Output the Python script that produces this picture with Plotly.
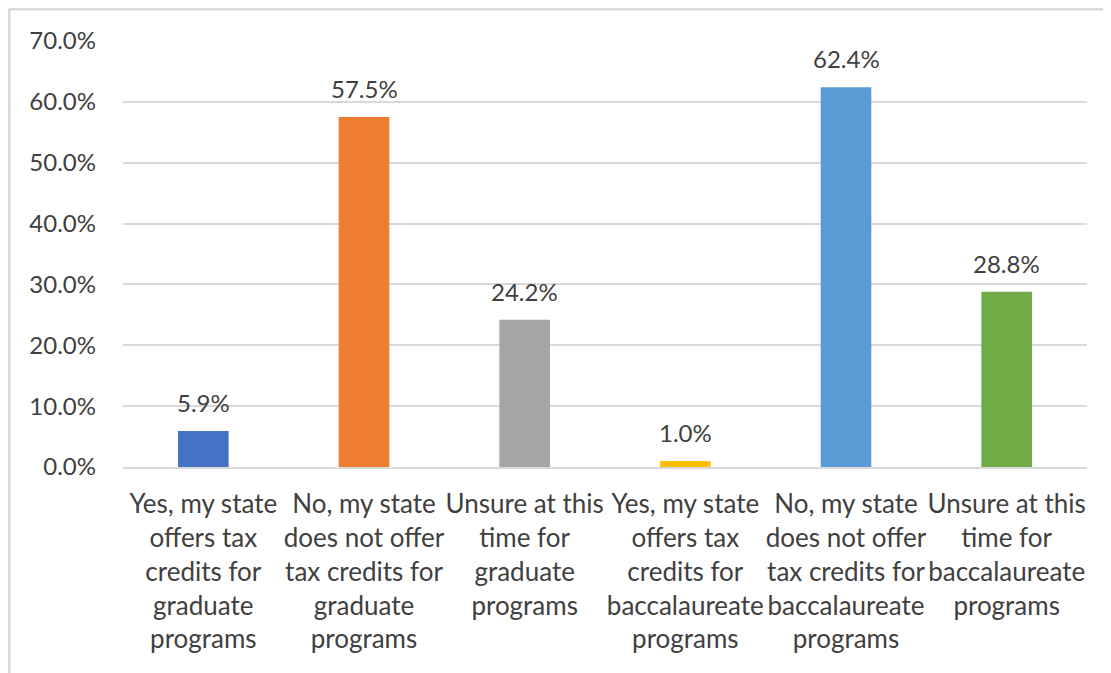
import plotly.graph_objects as go

categories = [
    "Yes, my state<br>offers tax<br>credits for<br>graduate<br>programs",
    "No, my state<br>does not offer<br>tax credits for<br>graduate<br>programs",
    "Unsure at this<br>time for<br>graduate<br>programs",
    "Yes, my state<br>offers tax<br>credits for<br>baccalaureate<br>programs",
    "No, my state<br>does not offer<br>tax credits for<br>baccalaureate<br>programs",
    "Unsure at this<br>time for<br>baccalaureate<br>programs",
]
values = [0.059, 0.575, 0.242, 0.010, 0.624, 0.288]
colors = ["#4472C4", "#ED7D31", "#A5A5A5", "#FFC000", "#5B9BD5", "#70AD47"]
y_ticks = [0, 0.1, 0.2, 0.3, 0.4, 0.5, 0.6, 0.7]

font_family = "Lato, 'Open Sans', sans-serif"
text_color = "#404040"

# page body has an 8px margin, so the figure is a bit smaller than the window
W, H = 1103, 665
ml, mr, mt, mb = 115, 24, 33, 206
pw, ph = W - ml - mr, H - mt - mb

fig = go.Figure(go.Bar(
    x=categories,
    y=values,
    marker=dict(color=colors, line=dict(width=0)),
))

# data labels above the bars
for c, v in zip(categories, values):
    fig.add_annotation(
        x=c, y=v, text="%.1f%%" % (v * 100),
        showarrow=False, yanchor="bottom", yshift=12,
        font=dict(family=font_family, size=24, color=text_color),
    )

fig.update_layout(
    width=W,
    height=H,
    margin=dict(l=ml, r=mr, t=mt, b=mb),
    paper_bgcolor="white",
    plot_bgcolor="white",
    bargap=0.685,
    showlegend=False,
    font=dict(family=font_family, size=24, color=text_color),
    shapes=[
        dict(type="line", xref="paper", yref="paper",
             x0=(1 - ml) / pw, x1=1.1, y0=1 + (mt - 1) / ph, y1=1 + (mt - 1) / ph,
             line=dict(color="#D9D9D9", width=3)),
        dict(type="line", xref="paper", yref="paper",
             x0=(1 - ml) / pw, x1=(1 - ml) / pw, y0=1 + (mt - 1) / ph, y1=-0.6,
             line=dict(color="#D9D9D9", width=3)),
    ],
)
fig.update_yaxes(
    range=[0, 0.7],
    tickvals=y_ticks,
    tickformat=".1%",
    showgrid=True,
    gridcolor="#D9D9D9",
    gridwidth=2,
    zeroline=False,
    showline=False,
    ticks="",
    ticklabelstandoff=26,
    tickfont=dict(size=24, color=text_color),
)
fig.update_xaxes(
    showline=True,
    linecolor="#D9D9D9",
    linewidth=2,
    ticks="",
    tickangle=0,
    ticklabelstandoff=13,
    tickfont=dict(size=26, color=text_color),
)

fig.write_html("out.html")
